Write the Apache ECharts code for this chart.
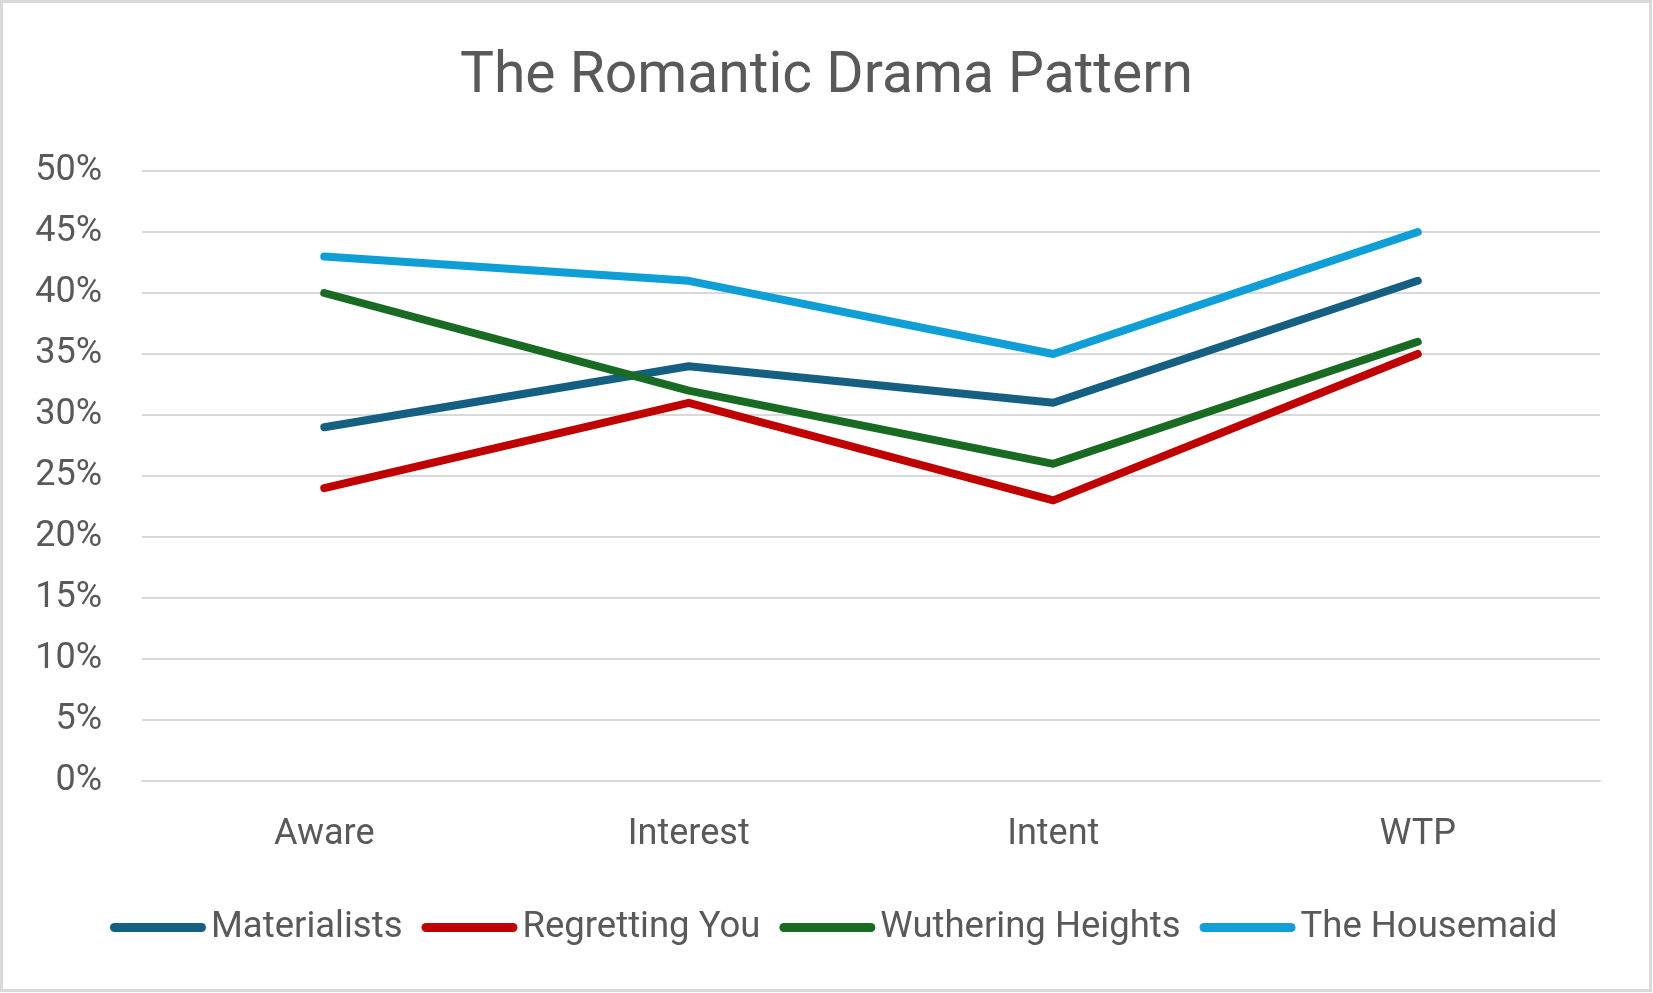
<!DOCTYPE html>
<html>
<head>
<meta charset="utf-8">
<script src="https://cdn.jsdelivr.net/npm/echarts@6/dist/echarts.min.js"></script>
<style>
html,body{margin:0;padding:0;background:#fff;}
#c{width:1653px;height:993px;}
</style>
</head>
<body>
<div id="c"></div>
<script>
const categories = ['Aware', 'Interest', 'Intent', 'WTP'];
const materialists = [29, 34, 31, 41];
const regrettingYou = [24, 31, 23, 35];
const wutheringHeights = [40, 32, 26, 36];
const theHousemaid = [43, 41, 35, 45];
const seriesNames = ['Materialists', 'Regretting You', 'Wuthering Heights', 'The Housemaid'];
const seriesData = [materialists, regrettingYou, wutheringHeights, theHousemaid];
const colors = ['#156082', '#C00000', '#196B24', '#0F9ED5'];

const FONT = '"Roboto", sans-serif';
const TXT = '#595959';

const chart = echarts.init(document.getElementById('c'));
chart.setOption({
  animation: false,
  color: colors,
  title: {
    text: 'The Romantic Drama Pattern',
    left: 'center',
    top: 44,
    textStyle: { fontFamily: FONT, fontSize: 57, fontWeight: 'normal', color: TXT }
  },
  legend: {
    left: 105,
    top: 904,
    itemGap: 19,
    itemWidth: 96,
    itemHeight: 9,
    icon: 'path://M4.5,0 L91.5,0 A4.5,4.5 0 0 1 91.5,9 L4.5,9 A4.5,4.5 0 0 1 4.5,0 Z',
    textStyle: { fontFamily: FONT, fontSize: 36.5, color: TXT, padding: 0 },
    data: seriesNames
  },
  graphic: [{
    type: 'rect',
    shape: { x: 1.5, y: 1.5, width: 1649, height: 989 },
    style: { fill: 'none', stroke: '#D9D9D9', lineWidth: 3 },
    silent: true
  }],
  grid: { left: 142, right: 53, top: 171, bottom: 212, containLabel: false },
  xAxis: {
    type: 'category',
    data: categories,
    boundaryGap: true,
    axisLine: { lineStyle: { color: '#D9D9D9', width: 2 } },
    axisTick: { show: false },
    axisLabel: { fontFamily: FONT, fontSize: 36, color: TXT, margin: 36 }
  },
  yAxis: {
    type: 'value',
    min: 0,
    max: 50,
    interval: 5,
    axisLine: { show: false },
    axisTick: { show: false },
    splitLine: { lineStyle: { color: '#D9D9D9', width: 2 } },
    axisLabel: { fontFamily: FONT, fontSize: 36, color: TXT, margin: 40, formatter: '{value}%' }
  },
  series: seriesNames.map((name, i) => ({
    name: name,
    type: 'line',
    data: seriesData[i],
    showSymbol: false,
    symbol: 'none',
    lineStyle: { width: 8, color: colors[i], cap: 'round', join: 'round' },
    itemStyle: { color: colors[i] }
  }))
});
</script>
</body>
</html>
